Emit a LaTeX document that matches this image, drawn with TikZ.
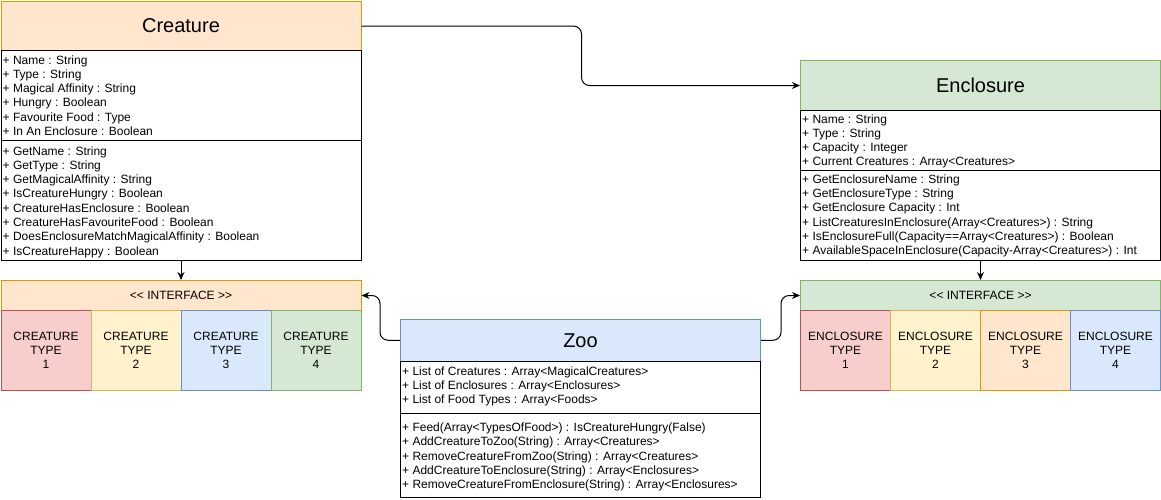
\documentclass[tikz,border=0pt]{standalone}
\usepackage{fontspec}
\setmainfont{Liberation Sans}
\usepackage{tikz}
\usetikzlibrary{arrows.meta}

\definecolor{orangefill}{HTML}{FFE6CC}
\definecolor{orangeline}{HTML}{D79B00}
\definecolor{greenfill}{HTML}{D5E8D4}
\definecolor{greenline}{HTML}{82B366}
\definecolor{bluefill}{HTML}{DAE8FC}
\definecolor{blueline}{HTML}{6C8EBF}
\definecolor{redfill}{HTML}{F8CECC}
\definecolor{redline}{HTML}{B85450}
\definecolor{yellowfill}{HTML}{FFF2CC}
\definecolor{yellowline}{HTML}{D6B656}

\tikzset{
  box/.style={draw,line width=1pt,anchor=north west,inner sep=0pt,minimum width=360pt},
  title/.style={box,minimum height=50pt,font=\fontsize{20}{24}\selectfont},
  part/.style={box,fill=white},
  iface/.style={box,minimum height=30pt,font=\fontsize{12}{14}\selectfont},
  kind/.style={box,minimum width=90pt,minimum height=80pt,align=center,font=\fontsize{12}{14.3}\selectfont},
  member/.style={anchor=base west,inner sep=0pt,font=\fontsize{12}{14}\selectfont},
  link/.style={line width=1pt,rounded corners=8pt,-{Stealth[length=8pt,width=7pt]}},
}

\begin{document}
\begin{tikzpicture}[x=1pt,y=-1pt]
\useasboundingbox (0,0) rectangle (1161,499);

\node[title,fill=orangefill,draw=orangeline] (creature) at (0.5,0.5) {Creature};
\node[part,minimum height=90pt] (creatureattr) at (0.5,50) {};
\node[part,minimum height=119.5pt] (creatureops) at (0.5,140) {};
\foreach \m [count=\i] in {+ Name : String,+ Type : String,+ Magical Affinity : String,+ Hungry : Boolean,+ Favourite Food : Type,+ In An Enclosure : Boolean}
  \node[member] (ca\i) at (2.5,{64+14.3*(\i-1)}) {\m};
\foreach \m [count=\i] in {+ GetName : String,+ GetType : String,+ GetMagicalAffinity : String,+ IsCreatureHungry : Boolean,+ CreatureHasEnclosure : Boolean,+ CreatureHasFavouriteFood : Boolean,+ DoesEnclosureMatchMagicalAffinity : Boolean,+ IsCreatureHappy : Boolean}
  \node[member] (co\i) at (2.5,{155+14.3*(\i-1)}) {\m};

\node[iface,fill=orangefill,draw=orangeline] (creatureiface) at (0.5,280) {<\kern0pt< INTERFACE >\kern0pt>};
\node[kind,fill=redfill,draw=redline] (ctype1) at (0.5,310) {CREATURE\\TYPE\\1};
\node[kind,fill=yellowfill,draw=yellowline] (ctype2) at (90.5,310) {CREATURE\\TYPE\\2};
\node[kind,fill=bluefill,draw=blueline] (ctype3) at (180.5,310) {CREATURE\\TYPE\\3};
\node[kind,fill=greenfill,draw=greenline] (ctype4) at (270.5,310) {CREATURE\\TYPE\\4};

\node[title,fill=greenfill,draw=greenline] (enclosure) at (800,60) {Enclosure};
\node[part,minimum height=60pt] (enclosureattr) at (800,110) {};
\node[part,minimum height=90pt] (enclosureops) at (800,170) {};
\foreach \m [count=\i] in {+ Name : String,+ Type : String,+ Capacity : Integer,+ Current Creatures : Array<Creatures>}
  \node[member] (ea\i) at (802,{123+14.3*(\i-1)}) {\m};
\foreach \m [count=\i] in {+ GetEnclosureName : String,+ GetEnclosureType : String,+ GetEnclosure Capacity : Int,+ ListCreaturesInEnclosure(Array<Creatures>) : String,+ IsEnclosureFull(Capacity==Array<Creatures>) : Boolean,+ AvailableSpaceInEnclosure(Capacity-Array<Creatures>) : Int}
  \node[member] (eo\i) at (802,{183.3+14.3*(\i-1)}) {\m};

\node[iface,fill=greenfill,draw=greenline] (enclosureiface) at (800,280) {<\kern0pt< INTERFACE >\kern0pt>};
\node[kind,fill=redfill,draw=redline] (etype1) at (800,310) {ENCLOSURE\\TYPE\\1};
\node[kind,fill=yellowfill,draw=yellowline] (etype2) at (890,310) {ENCLOSURE\\TYPE\\2};
\node[kind,fill=orangefill,draw=orangeline] (etype3) at (980,310) {ENCLOSURE\\TYPE\\3};
\node[kind,fill=bluefill,draw=blueline] (etype4) at (1070,310) {ENCLOSURE\\TYPE\\4};

\node[title,minimum height=42.5pt,fill=bluefill,draw=blueline] (zoo) at (400,318.5) {Zoo};
\node[part,minimum height=52pt] (zooattr) at (400,361) {};
\node[part,minimum height=84pt] (zooops) at (400,413) {};
\foreach \m [count=\i] in {+ List of Creatures : Array<MagicalCreatures>,+ List of Enclosures : Array<Enclosures>,+ List of Food Types : Array<Foods>}
  \node[member] (za\i) at (402,{375+14.3*(\i-1)}) {\m};
\foreach \m [count=\i] in {+ Feed(Array<TypesOfFood>) : IsCreatureHungry(False),+ AddCreatureToZoo(String) : Array<Creatures>,+ RemoveCreatureFromZoo(String) : Array<Creatures>,+ AddCreatureToEnclosure(String) : Array<Enclosures>,+ RemoveCreatureFromEnclosure(String) : Array<Enclosures>}
  \node[member] (zo\i) at (402,{431.5+14.3*(\i-1)}) {\m};

\draw[link] (creature.east) -- ++(220,0) |- (enclosure.west);
\draw[link] (creatureops.south) -- (creatureiface.north);
\draw[link] (enclosureops.south) -- (enclosureiface.north);
\draw[link] (zoo.west) -- ++(-20,0) |- (creatureiface.east);
\draw[link] (zoo.east) -- ++(20,0) |- (enclosureiface.west);

\end{tikzpicture}
\end{document}
